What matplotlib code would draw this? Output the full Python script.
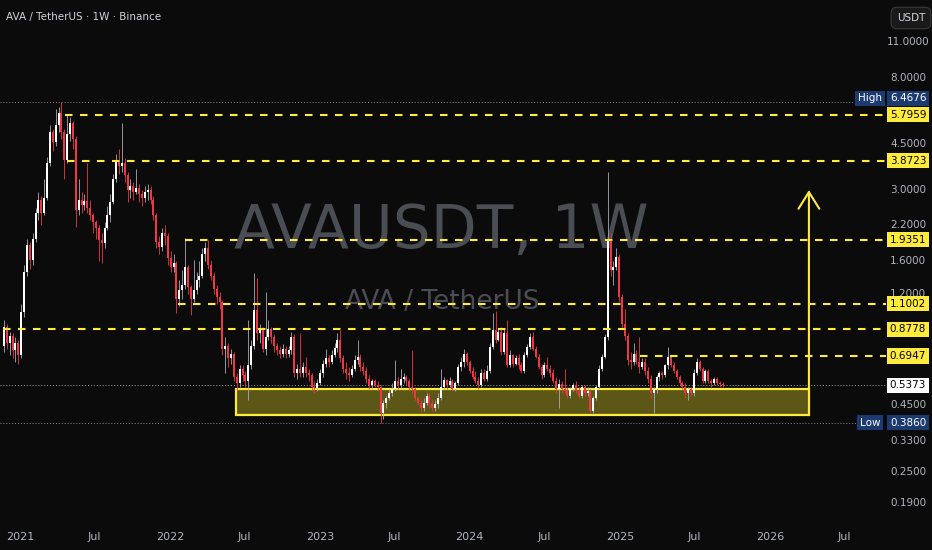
import numpy as np
import pandas as pd
import matplotlib
matplotlib.use("Agg")
import matplotlib.pyplot as plt
import matplotlib.dates as mdates
import matplotlib.transforms as mtransforms
from matplotlib.patches import Rectangle

plt.rcParams['font.family'] = ['Liberation Sans Narrow', 'DejaVu Sans']

# --- weekly candles AVA/USDT ---
first_open = 0.76
closes = [
    0.90, 0.78, 0.83, 0.73, 0.78, 0.70, 1.02, 1.45, 1.85, 1.62,
    1.95, 2.45, 2.75, 2.45, 2.80, 3.80, 5.00, 4.55, 5.30, 5.90,
    5.00, 3.90, 4.90, 5.40, 4.70, 2.50, 2.75, 2.62, 2.72, 2.55,
    2.40, 2.25, 2.15, 1.92, 1.88, 2.14, 2.40, 2.70, 3.30, 3.85,
    3.70, 3.80, 3.42, 3.00, 3.10, 2.95, 3.05, 2.90, 2.80, 2.95,
    3.00, 2.75, 2.40, 1.90, 1.82, 2.05, 2.00, 1.65, 1.52, 1.58,
    1.15, 1.24, 1.30, 1.52, 1.27, 1.15, 1.24, 1.35, 1.40, 1.70,
    1.80, 1.55, 1.40, 1.25, 1.17, 1.12, 0.74, 0.76, 0.68, 0.71,
    0.58, 0.55, 0.62, 0.59, 0.56, 0.64, 0.76, 1.04, 0.85, 0.87,
    0.74, 0.82, 0.88, 0.82, 0.76, 0.73, 0.71, 0.74, 0.71, 0.73,
    0.82, 0.60, 0.62, 0.60, 0.63, 0.60, 0.59, 0.53, 0.525, 0.55,
    0.60, 0.65, 0.68, 0.66, 0.70, 0.745, 0.80, 0.68, 0.62, 0.60,
    0.59, 0.62, 0.67, 0.69, 0.63, 0.61, 0.57, 0.54, 0.56, 0.54,
    0.53, 0.42, 0.46, 0.48, 0.50, 0.52, 0.56, 0.54, 0.57, 0.58,
    0.56, 0.53, 0.52, 0.48, 0.46, 0.44, 0.46, 0.49, 0.46, 0.44,
    0.455, 0.48, 0.53, 0.565, 0.54, 0.56, 0.52, 0.55, 0.63, 0.66,
    0.71, 0.66, 0.61, 0.58, 0.56, 0.54, 0.60, 0.57, 0.61, 0.75,
    0.87, 0.80, 0.86, 0.72, 0.85, 0.64, 0.70, 0.65, 0.68, 0.64,
    0.61, 0.70, 0.75, 0.82, 0.74, 0.69, 0.63, 0.59, 0.64, 0.62,
    0.60, 0.56, 0.52, 0.545, 0.52, 0.51, 0.49, 0.52, 0.54, 0.51,
    0.49, 0.53, 0.50, 0.51, 0.43, 0.48, 0.53, 0.62, 0.69, 0.82,
    1.92, 1.48, 1.52, 1.66, 1.17, 0.92, 0.83, 0.67, 0.66, 0.71,
    0.66, 0.63, 0.66, 0.61, 0.57, 0.50, 0.52, 0.58, 0.60, 0.59,
    0.64, 0.69, 0.64, 0.61, 0.58, 0.55, 0.53, 0.50, 0.52, 0.50,
    0.60, 0.66, 0.62, 0.56, 0.61, 0.56, 0.55, 0.57, 0.55, 0.545,
    0.5373,
]
highs = [
    0.95, 0.92, 0.86, 0.85, 0.82, 0.80, 1.10, 1.55, 1.95, 1.90,
    2.05, 2.55, 2.95, 2.85, 3.30, 4.00, 5.30, 5.10, 6.10, 6.20,
    6.4676, 5.10, 5.80, 5.70, 5.50, 4.80, 3.30, 2.95, 2.90, 3.80,
    2.75, 2.45, 2.30, 2.20, 2.05, 2.25, 2.60, 2.90, 3.45, 4.10,
    4.30, 5.40, 3.95, 3.50, 3.30, 3.20, 3.60, 3.15, 3.00, 3.10,
    3.15, 3.10, 2.85, 2.45, 2.00, 2.15, 2.20, 2.05, 1.75, 1.70,
    1.60, 1.35, 1.48, 1.96, 1.55, 1.30, 1.62, 1.45, 1.60, 1.80,
    1.90, 1.93, 1.62, 1.45, 1.30, 1.22, 1.14, 0.82, 0.78, 0.74,
    0.72, 0.60, 0.64, 0.64, 0.61, 0.95, 0.80, 1.44, 1.38, 0.92,
    0.90, 1.22, 0.95, 0.90, 0.84, 0.78, 0.76, 0.77, 0.76, 0.76,
    0.86, 0.84, 0.65, 0.85, 0.66, 0.69, 0.62, 0.60, 0.56, 0.57,
    0.62, 0.67, 0.74, 0.70, 0.73, 0.78, 0.85, 0.87, 0.70, 0.66,
    0.63, 0.64, 0.70, 0.80, 0.71, 0.66, 0.63, 0.59, 0.57, 0.57,
    0.56, 0.54, 0.47, 0.49, 0.52, 0.55, 0.67, 0.58, 0.62, 0.60,
    0.59, 0.57, 0.73, 0.53, 0.49, 0.47, 0.48, 0.50, 0.50, 0.47,
    0.47, 0.50, 0.62, 0.58, 0.57, 0.58, 0.57, 0.56, 0.65, 0.69,
    0.74, 0.72, 0.67, 0.63, 0.61, 0.58, 0.62, 0.62, 0.64, 0.78,
    1.01, 1.03, 0.89, 0.90, 0.88, 0.95, 0.73, 0.71, 0.70, 0.71,
    0.66, 0.72, 0.77, 0.85, 0.86, 0.76, 0.71, 0.65, 0.66, 0.69,
    0.64, 0.62, 0.58, 0.57, 0.56, 0.62, 0.53, 0.53, 0.55, 0.56,
    0.53, 0.54, 0.54, 0.53, 0.52, 0.49, 0.54, 0.64, 0.71, 0.84,
    3.50, 2.05, 1.60, 1.80, 1.70, 1.20, 1.05, 0.85, 0.72, 0.78,
    0.73, 0.82, 0.68, 0.68, 0.63, 0.59, 0.53, 0.59, 0.61, 0.61,
    0.65, 0.75, 0.70, 0.66, 0.62, 0.59, 0.56, 0.55, 0.53, 0.53,
    0.62, 0.68, 0.67, 0.63, 0.62, 0.62, 0.57, 0.58, 0.58, 0.56,
    0.555,
]
lows = [
    0.72, 0.74, 0.70, 0.68, 0.66, 0.65, 0.68, 0.98, 1.40, 1.50,
    1.55, 1.90, 2.30, 2.20, 2.40, 2.75, 3.70, 4.20, 4.40, 5.00,
    4.70, 3.30, 3.80, 4.60, 4.30, 2.16, 2.40, 2.45, 2.50, 2.45,
    2.30, 2.05, 1.95, 1.60, 1.58, 1.80, 2.10, 2.25, 2.65, 3.20,
    3.45, 3.50, 3.20, 2.70, 2.80, 2.75, 2.90, 2.70, 2.60, 2.70,
    2.75, 2.65, 2.30, 1.80, 1.70, 1.75, 1.85, 1.55, 1.45, 1.45,
    1.01, 1.08, 1.15, 1.25, 1.20, 1.00, 1.12, 1.20, 1.28, 1.38,
    1.60, 1.50, 1.35, 1.20, 1.10, 1.05, 0.70, 0.60, 0.63, 0.65,
    0.56, 0.51, 0.53, 0.56, 0.53, 0.47, 0.62, 0.74, 0.80, 0.78,
    0.72, 0.70, 0.80, 0.78, 0.72, 0.70, 0.68, 0.69, 0.68, 0.69,
    0.71, 0.58, 0.57, 0.58, 0.58, 0.58, 0.56, 0.51, 0.50, 0.51,
    0.54, 0.58, 0.63, 0.63, 0.65, 0.69, 0.72, 0.66, 0.60, 0.57,
    0.56, 0.58, 0.61, 0.65, 0.61, 0.59, 0.55, 0.52, 0.52, 0.53,
    0.51, 0.386, 0.40, 0.44, 0.47, 0.49, 0.51, 0.52, 0.52, 0.55,
    0.54, 0.51, 0.50, 0.47, 0.45, 0.43, 0.43, 0.45, 0.44, 0.43,
    0.43, 0.44, 0.47, 0.52, 0.52, 0.53, 0.51, 0.51, 0.54, 0.61,
    0.63, 0.64, 0.60, 0.57, 0.55, 0.52, 0.53, 0.56, 0.56, 0.60,
    0.74, 0.78, 0.79, 0.70, 0.71, 0.63, 0.63, 0.63, 0.64, 0.62,
    0.60, 0.60, 0.69, 0.74, 0.73, 0.68, 0.62, 0.57, 0.58, 0.61,
    0.58, 0.55, 0.50, 0.44, 0.50, 0.50, 0.48, 0.48, 0.51, 0.50,
    0.48, 0.48, 0.49, 0.49, 0.42, 0.42, 0.47, 0.52, 0.61, 0.68,
    0.80, 1.40, 1.30, 1.48, 1.12, 0.88, 0.80, 0.64, 0.62, 0.64,
    0.65, 0.60, 0.62, 0.59, 0.55, 0.48, 0.42, 0.50, 0.56, 0.57,
    0.58, 0.62, 0.63, 0.60, 0.57, 0.54, 0.52, 0.48, 0.47, 0.49,
    0.49, 0.59, 0.61, 0.55, 0.55, 0.55, 0.53, 0.54, 0.54, 0.53,
    0.53,
]
first_week = '2020-11-23'

# key levels drawn on the chart
level_prices = [5.7959, 3.8723, 1.9351, 1.1002, 0.8778, 0.6947]
level_starts = ['2021-04-20', '2021-04-25', '2022-02-06', '2022-01-20', '2020-11-21', '2025-02-18']
high_price = 6.4676
low_price = 0.3860
last_price = 0.5373
zone_low, zone_high = 0.4136, 0.518
zone_start, zone_end = '2022-06-11', '2026-04-06'
target_price = 2.99

price_ticks = [11, 8, 4.5, 3, 2.2, 1.6, 1.2, 0.45, 0.33, 0.25, 0.19]
time_ticks = ['2021-01-01', '2021-07-01', '2022-01-01', '2022-07-01', '2023-01-01', '2023-07-01',
              '2024-01-01', '2024-07-01', '2025-01-01', '2025-07-01', '2026-01-01', '2026-07-01']
time_labels = ['2021', 'Jul', '2022', 'Jul', '2023', 'Jul', '2024', 'Jul', '2025', 'Jul', '2026', 'Jul']

bg = '#0b0b0b'
up_col = '#ffffff'
up_wick = '#a9acb5'
dn_col = '#f23645'
yellow = '#ffeb3b'
scale_txt = '#b2b5be'
tag_blue = '#1c3a70'

W, H = 932, 550
pane_w, pane_h = 886, 518

fig = plt.figure(figsize=(W / 100, H / 100), dpi=100, facecolor=bg)
ax = fig.add_axes([0, (H - pane_h) / H, pane_w / W, pane_h / H])
ax.set_facecolor(bg)
ax.set_yscale('log')
ax.set_ylim(0.1671, 15.92)
t0 = mdates.date2num(pd.Timestamp('2021-01-01'))
ax.set_xlim(t0 - 48.7, t0 + 2108.7)
for s in ax.spines.values():
    s.set_visible(False)
ax.yaxis.set_visible(False)

# candles
c = np.array(closes)
o = np.r_[first_open, c[:-1]]
hi = np.maximum(np.array(highs), np.maximum(o, c))
lo = np.minimum(np.array(lows), np.minimum(o, c))
xs = mdates.date2num(pd.date_range(first_week, periods=len(c), freq='7D'))
up = c >= o

# support zone
zs, ze = mdates.date2num(pd.Timestamp(zone_start)), mdates.date2num(pd.Timestamp(zone_end))
ax.add_patch(Rectangle((zs, zone_low), ze - zs, zone_high - zone_low,
                       facecolor='#5c5716', edgecolor=yellow, lw=1.6, zorder=1))

ax.vlines(xs[up], lo[up], hi[up], color=up_wick, lw=0.6, zorder=3)
ax.vlines(xs[~up], lo[~up], hi[~up], color=dn_col, lw=0.6, zorder=3)
body_lo = np.minimum(o, c)
body_hi = np.maximum(o, c)
ax.bar(xs, body_hi - body_lo, bottom=body_lo, width=4.8,
       color=np.where(up, up_col, dn_col), linewidth=0, zorder=4)

# dotted high / low / last-price lines
ax.axhline(high_price, xmax=858 / pane_w, color='#8a8a8a', lw=0.7, ls=(0, (1, 2)), zorder=2)
ax.axhline(low_price, xmax=858 / pane_w, color='#8a8a8a', lw=0.7, ls=(0, (1, 2)), zorder=2)
ax.axhline(last_price, color='#a0a0a0', lw=0.7, ls=(0, (1, 2)), zorder=2)

# dashed levels
x_right = ax.get_xlim()[1]
for lvl, st in zip(level_prices, level_starts):
    ax.hlines(lvl, mdates.date2num(pd.Timestamp(st)), x_right, color=yellow,
              lw=1.5, linestyles=(0, (3.6, 3.6)), zorder=5)

# target arrow
ax.annotate('', xy=(ze, target_price), xytext=(ze, zone_high),
            arrowprops=dict(arrowstyle='->,head_length=1.2,head_width=0.75',
                            color=yellow, lw=1.5, shrinkA=0, shrinkB=0), zorder=6)

# watermark
ax.text(0.498, 0.553, 'AVAUSDT, 1W', transform=ax.transAxes, ha='center', va='center',
        fontsize=43, color='#4b4d55', zorder=0)
ax.text(0.499, 0.417, 'AVA / TetherUS', transform=ax.transAxes, ha='center', va='center',
        fontsize=19, color='#4b4d55', zorder=0)

# time axis
ax.set_xticks([mdates.date2num(pd.Timestamp(d)) for d in time_ticks])
ax.set_xticklabels(time_labels)
ax.tick_params(axis='x', length=0, pad=10, labelsize=8, labelcolor=scale_txt)

# price scale
tr = ax.get_yaxis_transform()
px = 908 / pane_w
tag_x = 870 / pane_w
for p in price_ticks:
    ax.text(px, p, f'{p:.4f}', transform=tr, ha='center', va='center',
            fontsize=7.5, color=scale_txt, clip_on=False, zorder=7)
for lvl in level_prices:
    ax.text(px, lvl, f'{lvl:.4f}', transform=tr, ha='center', va='center', fontsize=7.5,
            color='#000000', clip_on=False, zorder=9,
            bbox=dict(boxstyle='square,pad=0.25', fc=yellow, ec='none'))
off = mtransforms.offset_copy(tr, fig=fig, x=0, y=4, units='dots')
ax.text(px, high_price, f'{high_price:.4f}', transform=off, ha='center', va='center', fontsize=7.5,
        color='white', clip_on=False, zorder=9, bbox=dict(boxstyle='square,pad=0.25', fc=tag_blue, ec='none'))
ax.text(tag_x, high_price, 'High', transform=off, ha='center', va='center', fontsize=7.5,
        color='white', clip_on=False, zorder=9, bbox=dict(boxstyle='square,pad=0.25', fc=tag_blue, ec='none'))
ax.text(px, low_price, f'{low_price:.4f}', transform=tr, ha='center', va='center', fontsize=7.5,
        color='white', clip_on=False, zorder=9, bbox=dict(boxstyle='square,pad=0.25', fc=tag_blue, ec='none'))
ax.text(tag_x, low_price, 'Low', transform=tr, ha='center', va='center', fontsize=7.5,
        color='white', clip_on=False, zorder=9, bbox=dict(boxstyle='square,pad=0.25', fc=tag_blue, ec='none'))
ax.text(px, last_price, f'{last_price:.4f}', transform=tr, ha='center', va='center', fontsize=7.5,
        color='#000000', clip_on=False, zorder=9, bbox=dict(boxstyle='square,pad=0.25', fc='white', ec='none'))

# header
fig.text(6 / W, 1 - 17 / H, 'AVA / TetherUS · 1W · Binance', ha='left', va='center',
         fontsize=7.5, color='#d1d4dc')
fig.text(911 / W, 1 - 18 / H, 'USDT', ha='center', va='center', fontsize=7.5, color='#d1d4dc',
         bbox=dict(boxstyle='round,pad=0.55', fc='#1a1a1a', ec='#3a3a3a', lw=0.8))

fig.savefig('out.png', dpi=100, facecolor=bg)
